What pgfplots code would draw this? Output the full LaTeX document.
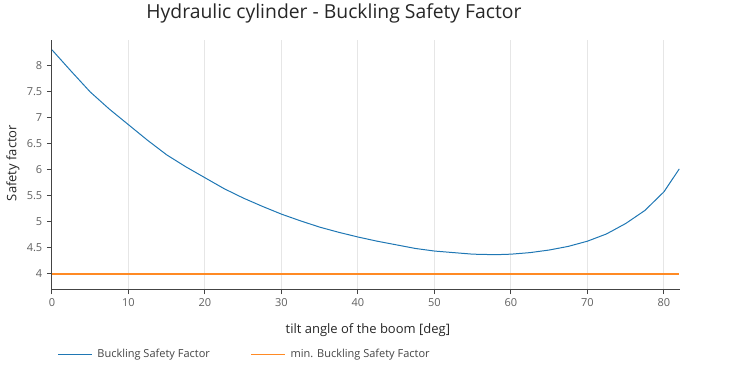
\documentclass[border=0pt]{standalone}
\usepackage{pgfplots}
\pgfplotsset{compat=1.18}
\usepackage{fontspec}
\setmainfont{Open Sans}
\definecolor{pblue}{HTML}{1F77B4}
\definecolor{porange}{HTML}{FF8A24}
\definecolor{ptext}{HTML}{444444}
\definecolor{pgrid}{HTML}{E6E6E6}
\begin{document}
\begin{tikzpicture}
\useasboundingbox (0,0) rectangle (561pt,291.75pt);
\begin{axis}[
  at={(39pt,75pt)}, anchor=south west,
  scale only axis, width=471pt, height=186.75pt,
  xmin=0, xmax=82.1, ymin=3.71, ymax=8.5,
  axis lines*=left,
  axis line style={ptext, line width=0.75pt},
  tick align=outside, major tick length=3.75pt,
  tick style={ptext, line width=0.75pt},
  xtick={0,10,...,80}, ytick={4,4.5,...,8},
  yticklabels={4,4.5,5,5.5,6,6.5,7,7.5,8},
  xmajorgrids, ymajorgrids=false,
  major grid style={pgrid, line width=0.75pt},
  /pgf/number format/assume math mode=true,
  tick label style={font=\fontsize{8.25}{10}\selectfont, text=ptext!85},
  title={Hydraulic cylinder - Buckling Safety Factor},
  every axis title/.style={font=\fontsize{14.5}{17}\selectfont, text=black!85, at={(axis description cs:0.449,1.108)}, anchor=center},
  xlabel={tilt angle of the boom [deg]},
  xlabel style={font=\fontsize{9.75}{12}\selectfont, text=black!85, at={(axis description cs:0.503,-0.165)}, anchor=center},
  ylabel={Safety factor},
  ylabel style={font=\fontsize{9.75}{12}\selectfont, text=black!85, at={(axis description cs:-0.062,0.506)}, anchor=center, rotate=0},
  legend columns=2,
  legend style={at={(axis description cs:0.0016,-0.262)}, anchor=west, draw=none, fill=none,
    font=\fontsize{8.25}{10}\selectfont, text=ptext,
    /tikz/every odd column/.append style={column sep=1.5pt},
    /tikz/every even column/.append style={column sep=28.5pt}},
  legend image code/.code={\draw[#1, line width=1.1pt] (0pt,0pt) -- (25.5pt,0pt);},
]
\addplot[pblue, line width=0.75pt] coordinates {
(0,8.31) (2.5,7.9) (5,7.5) (7.5,7.17) (10,6.87) (12.5,6.57) (15,6.29) (17.5,6.06) (20,5.85)
(22.5,5.64) (25,5.46) (27.5,5.30) (30,5.15) (32.5,5.02) (35,4.90) (37.5,4.80) (40,4.71)
(42.5,4.63) (45,4.56) (47.5,4.49) (50,4.44) (52.5,4.41) (55,4.38) (58,4.37) (60,4.38)
(62.5,4.41) (65,4.46) (67.5,4.53) (70,4.63) (72.5,4.77) (75,4.97) (77.5,5.22) (80,5.58) (82,6.02)
};
\addlegendentry{Buckling Safety Factor}
\addplot[porange, line width=1pt] coordinates {(0,4) (82,4)};
\addlegendentry{min. Buckling Safety Factor}
\end{axis}
\end{tikzpicture}
\end{document}
